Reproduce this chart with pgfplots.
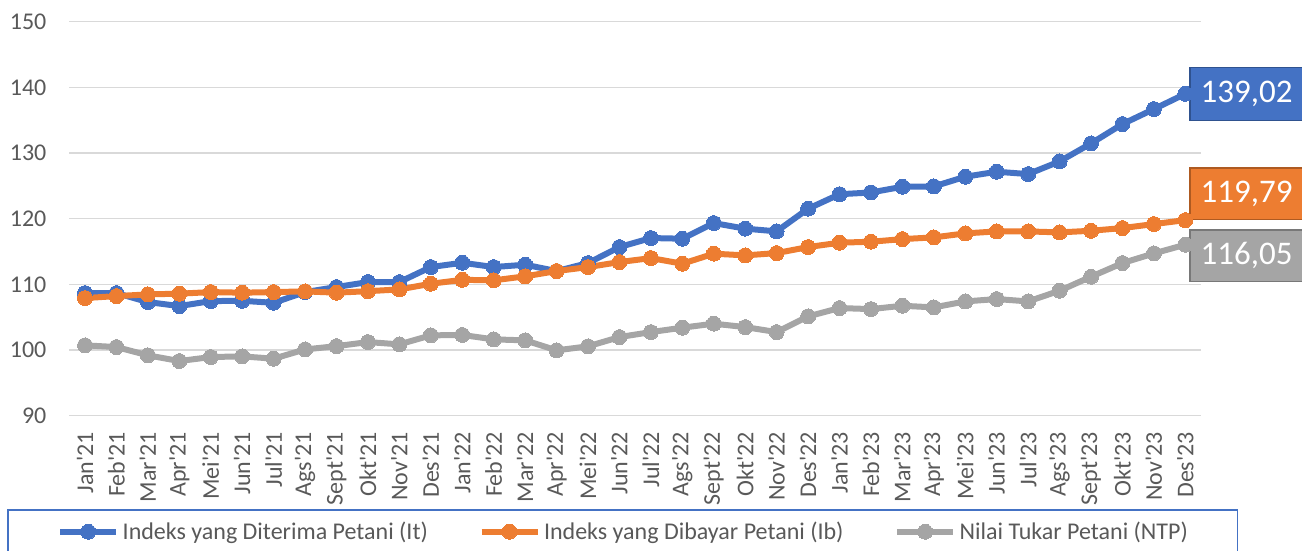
\documentclass[border=0pt]{standalone}
\usepackage{fontspec}
\setmainfont{Carlito}[Ligatures=TeXOff]
\usepackage{pgfplots}
\pgfplotsset{compat=1.18}
\definecolor{cBlue}{HTML}{4472C4}
\definecolor{cOrange}{HTML}{ED7D31}
\definecolor{cGray}{HTML}{A5A5A5}
\definecolor{cBlueD}{HTML}{2F528F}
\definecolor{cOrangeD}{HTML}{AE5A21}
\definecolor{cGrayD}{HTML}{787878}
\definecolor{cGrid}{HTML}{D9D9D9}
\definecolor{cTick}{HTML}{595959}

\pgfplotstableread{
x It Ib NTP
0 108.68 107.92 100.72
1 108.68 108.22 100.46
2 107.31 108.48 99.20
3 106.70 108.59 98.33
4 107.46 108.83 98.94
5 107.50 108.74 99.04
6 107.20 108.83 98.69
7 108.83 108.94 100.10
8 109.60 108.74 100.60
9 110.36 108.97 101.22
10 110.36 109.24 100.87
11 112.64 110.10 102.24
12 113.30 110.70 102.30
13 112.64 110.62 101.63
14 113.00 111.23 101.48
15 112.03 112.03 99.96
16 113.25 112.64 100.57
17 115.69 113.40 101.98
18 117.06 114.01 102.74
19 116.96 113.15 103.41
20 119.34 114.68 104.02
21 118.49 114.42 103.50
22 118.08 114.77 102.74
23 121.53 115.69 105.13
24 123.73 116.35 106.40
25 124.00 116.50 106.24
26 124.87 116.90 106.75
27 124.92 117.16 106.50
28 126.40 117.77 107.41
29 127.16 118.07 107.77
30 126.80 118.07 107.41
31 128.73 117.92 109.04
32 131.47 118.17 111.17
33 134.42 118.58 113.25
34 136.70 119.19 114.72
35 139.02 119.79 116.05
}\datatable

\begin{document}
\begin{tikzpicture}
\begin{axis}[
  scale only axis, width=848.8pt, height=295.5pt,
  xmin=-0.5, xmax=35.5, ymin=90, ymax=150,
  ytick={90,100,...,150},
  xtick={0,...,35},
  xticklabels={Jan'21,Feb'21,Mar'21,Apr'21,Mei'21,Jun'21,Jul'21,Ags'21,Sept'21,Okt'21,Nov'21,Des'21,
               Jan'22,Feb'22,Mar'22,Apr'22,Mei'22,Jun'22,Jul'22,Ags'22,Sept'22,Okt'22,Nov'22,Des'22,
               Jan'23,Feb'23,Mar'23,Apr'23,Mei'23,Jun'23,Jul'23,Ags'23,Sept'23,Okt'23,Nov'23,Des'23},
  axis line style={draw=none},
  major tick length=0pt,
  ymajorgrids, grid style={cGrid, line width=1pt},
  tick label style={font=\fontsize{18}{21.6}\selectfont, text=cTick},
  /pgf/number format/assume math mode=true,
  xticklabel style={rotate=90, anchor=east, inner sep=0pt},
  yticklabel style={anchor=east, inner sep=0pt},
  xticklabel shift=12pt, yticklabel shift=17pt,
  clip=false,
  legend columns=3,
  legend style={at={(-0.05478,-0.2376)}, anchor=north west,
    draw=cBlue, line width=0.9pt, inner xsep=37pt, inner ysep=9pt,
    font=\fontsize{18}{21.6}\selectfont, text=cTick,
    nodes={inner sep=0pt},
    /tikz/every odd column/.append style={column sep=2.6pt},
    /tikz/every even column/.append style={column sep=38pt}},
  legend image code/.code={\draw[mark repeat=2,mark phase=2,#1] plot coordinates {(0pt,0pt) (21pt,0pt) (42pt,0pt)};},
]
\addplot[cBlue, line width=4.5pt, mark=*, mark size=5.6pt, mark options={solid, fill=cBlue, draw=cBlue, line width=0pt}] table[x=x, y=It] {\datatable};
\addlegendentry{Indeks yang Diterima Petani (It)}
\addplot[cOrange, line width=4.5pt, mark=*, mark size=5.6pt, mark options={solid, fill=cOrange, draw=cOrange, line width=0pt}] table[x=x, y=Ib] {\datatable};
\addlegendentry{Indeks yang Dibayar Petani (Ib)}
\addplot[cGray, line width=4.5pt, mark=*, mark size=5.6pt, mark options={solid, fill=cGray, draw=cGray, line width=0pt}] table[x=x, y=NTP] {\datatable};
\addlegendentry{Nilai Tukar Petani (NTP)}

\node[anchor=west, fill=cBlue, draw=cBlueD, line width=1.1pt, text=white, minimum width=84.75pt, minimum height=39.75pt, inner sep=0pt, font=\fontsize{24.75}{28}\selectfont] at (axis cs:35.13,139.02) {139,02};
\node[anchor=west, fill=cOrange, draw=cOrangeD, line width=1.1pt, text=white, minimum width=84.75pt, minimum height=38.5pt, inner sep=0pt, font=\fontsize{24.75}{28}\selectfont] at (axis cs:35.13,123.8) {119,79};
\node[anchor=west, fill=cGray, draw=cGrayD, line width=1.1pt, text=white, minimum width=84.75pt, minimum height=38.5pt, inner sep=0pt, font=\fontsize{24.75}{28}\selectfont] at (axis cs:35.13,114.35) {116,05};
\end{axis}
\pgfresetboundingbox
\useasboundingbox (-51.98pt,-100.7pt) rectangle (924.5pt,311.8pt);
\end{tikzpicture}
\end{document}
